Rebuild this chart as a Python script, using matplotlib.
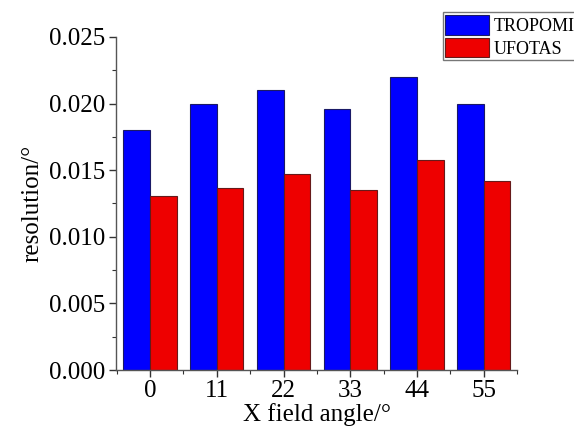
import matplotlib
matplotlib.use("Agg")
import matplotlib.pyplot as plt
import numpy as np
from matplotlib.ticker import MultipleLocator

# Daten
angles = ["0", "11", "22", "33", "44", "55"]
tropomi = [0.0180, 0.0200, 0.0210, 0.0196, 0.0220, 0.0200]
ufotas = [0.0131, 0.0137, 0.0147, 0.0135, 0.0158, 0.0142]

plt.rcParams["font.family"] = ["Liberation Serif", "DejaVu Serif"]

fig = plt.figure(figsize=(5.74, 4.30), dpi=100)
ax = fig.add_axes([0.202, 0.1395, 0.699, 0.7745])

x = np.arange(len(angles))
w = 0.4
ax.bar(x - w / 2, tropomi, width=w, color="#0000ff", edgecolor="#1a1a66",
       linewidth=0.8, label="TROPOMI")
ax.bar(x + w / 2, ufotas, width=w, color="#ee0000", edgecolor="#661a1a",
       linewidth=0.8, label="UFOTAS")

ax.set_xlim(-0.51, 5.5)
ax.set_ylim(0, 0.025)
ax.set_xticks(x)
ax.set_xticklabels(angles)
ax.xaxis.set_minor_locator(MultipleLocator(0.5))
ax.yaxis.set_major_locator(MultipleLocator(0.005))
ax.yaxis.set_minor_locator(MultipleLocator(0.0025))
ax.yaxis.set_major_formatter(matplotlib.ticker.FormatStrFormatter("%.3f"))

for s in ["top", "right"]:
    ax.spines[s].set_visible(False)
for s in ["left", "bottom"]:
    ax.spines[s].set_color("#555555")
    ax.spines[s].set_linewidth(1.0)

ax.tick_params(which="major", direction="out", length=5, width=1,
               color="#333333", labelsize=18, pad=3)
ax.tick_params(which="minor", direction="out", length=3, width=0.8,
               color="#333333")
ax.tick_params(axis="x", which="major", pad=2)

ax.set_xlabel("X field angle/°", fontsize=18, labelpad=1)
ax.set_ylabel("resolution/°", fontsize=18, labelpad=4)

leg = fig.legend(loc="upper left", bbox_to_anchor=(0.771, 0.971),
                 fontsize=13, frameon=True, fancybox=False,
                 borderpad=0.15, labelspacing=0.15, handlelength=2.4,
                 handleheight=1.3, handletextpad=0.3, borderaxespad=0)
leg.get_frame().set_edgecolor("#555555")
leg.get_frame().set_linewidth(1.0)

fig.savefig("out.png", dpi=100)
plt.close(fig)
